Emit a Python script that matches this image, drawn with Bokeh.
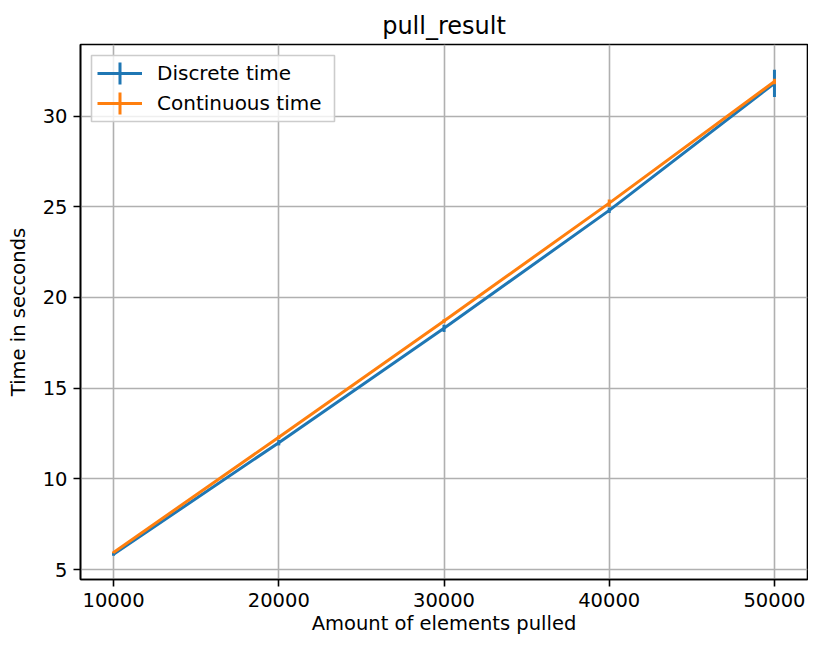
from bokeh.plotting import figure
from bokeh.models import FixedTicker, Legend, LegendItem, Range1d, BoxAnnotation
from bokeh.embed import file_html
from bokeh.resources import INLINE

elements = [10000, 20000, 30000, 40000, 50000]
discrete_mean = [5.85, 12.0, 18.3, 24.8, 31.8]
discrete_err = [0.08, 0.15, 0.2, 0.15, 0.75]
continuous_mean = [5.95, 12.3, 18.7, 25.2, 31.9]
continuous_err = [0.05, 0.1, 0.1, 0.2, 0.15]
x_ticks = [10000, 20000, 30000, 40000, 50000]
y_ticks = [5, 10, 15, 20, 25, 30]
series_labels = ["Discrete time", "Continuous time"]

BLUE = "#1f77b4"
ORANGE = "#ff7f0e"
FONT = "DejaVu Sans"
LW = 3

W, H = 808, 639
BL, BR, BT, BB = 80, 1, 44, 60

p = figure(width=W, height=H, output_backend="svg", toolbar_location=None,
           x_range=Range1d(8000, 52000), y_range=Range1d(4.46, 33.94),
           min_border_left=BL, min_border_right=BR, min_border_top=BT, min_border_bottom=BB)

p.title.text = "pull_result"
p.title.align = "center"
p.title.text_font = FONT
p.title.text_font_size = "24px"
p.title.text_font_style = "normal"
p.title.text_color = "black"
p.title.offset = 0

p.outline_line_color = "black"
p.outline_line_width = 1.6

for ax in (p.xaxis[0], p.yaxis[0]):
    ax.axis_line_color = "black"
    ax.axis_line_width = 1.6
    ax.major_tick_line_width = 1.6
    ax.major_tick_out = 7
    ax.major_tick_in = 0
    ax.minor_tick_line_color = None
    ax.major_label_text_font = FONT
    ax.major_label_text_font_size = "19.5px"
    ax.major_label_text_color = "black"
    ax.axis_label_text_font = FONT
    ax.axis_label_text_font_size = "19.5px"
    ax.axis_label_text_font_style = "normal"
    ax.axis_label_text_color = "black"
    ax.major_label_standoff = 6

p.xaxis.ticker = FixedTicker(ticks=x_ticks)
p.yaxis.ticker = FixedTicker(ticks=y_ticks)
p.xaxis.axis_label = "Amount of elements pulled"
p.yaxis.axis_label = "Time in secconds"
p.xaxis.axis_label_standoff = 2
p.yaxis.axis_label_standoff = 10

p.xgrid.ticker = FixedTicker(ticks=x_ticks)
p.ygrid.ticker = FixedTicker(ticks=y_ticks)
for g in (p.xgrid[0], p.ygrid[0]):
    g.grid_line_color = "#b0b0b0"
    g.grid_line_width = 1.6

d_lo = [m - e for m, e in zip(discrete_mean, discrete_err)]
d_hi = [m + e for m, e in zip(discrete_mean, discrete_err)]
c_lo = [m - e for m, e in zip(continuous_mean, continuous_err)]
c_hi = [m + e for m, e in zip(continuous_mean, continuous_err)]

r_dl = p.line(elements, discrete_mean, line_color=BLUE, line_width=LW)
r_de = p.segment(x0=elements, y0=d_lo, x1=elements, y1=d_hi, line_color=BLUE, line_width=LW)
r_cl = p.line(elements, continuous_mean, line_color=ORANGE, line_width=LW)
r_ce = p.segment(x0=elements, y0=c_lo, x1=elements, y1=c_hi, line_color=ORANGE, line_width=LW)

LEG_MARGIN, LEG_PAD, GLYPH_W, ROW_H, ROW_GAP = 11, 6, 45, 24, 6
LEG_W = 243
frame_h = H - BT - BB
leg_h = 2 * LEG_PAD + 2 * ROW_H + ROW_GAP

# legend frame (semi-transparent white, light grey border)
p.add_layout(BoxAnnotation(left=LEG_MARGIN, right=LEG_MARGIN + LEG_W,
                           top=frame_h - LEG_MARGIN, bottom=frame_h - LEG_MARGIN - leg_h,
                           left_units="screen", right_units="screen",
                           bottom_units="screen", top_units="screen",
                           fill_color="white", fill_alpha=0.8,
                           line_color="#cccccc", line_width=1.6, line_alpha=1.0))

# vertical bar of the errorbar legend symbol
cx = LEG_MARGIN + LEG_PAD + GLYPH_W / 2
for i, col in enumerate([BLUE, ORANGE]):
    cy = frame_h - (LEG_MARGIN + LEG_PAD + ROW_H / 2 + i * (ROW_H + ROW_GAP))
    p.add_layout(BoxAnnotation(left=cx - 1.5, right=cx + 1.5, bottom=cy - 11, top=cy + 11,
                               left_units="screen", right_units="screen",
                               bottom_units="screen", top_units="screen",
                               fill_color=col, fill_alpha=1.0, line_color=None))

# borderless legend: padding is not applied, so it is folded into the margin
legend = Legend(items=[
    LegendItem(label=series_labels[0], renderers=[r_dl]),
    LegendItem(label=series_labels[1], renderers=[r_cl]),
], location="top_left")
legend.margin = LEG_MARGIN + LEG_PAD
legend.padding = 0
legend.spacing = ROW_GAP
legend.glyph_width = GLYPH_W
legend.glyph_height = ROW_H
legend.label_height = ROW_H
legend.label_standoff = 15
legend.label_text_font = FONT
legend.label_text_font_size = "20px"
legend.label_text_color = "black"
legend.border_line_color = None
legend.background_fill_alpha = 0.0
p.add_layout(legend)

open("out.html", "w").write(file_html(p, INLINE))
